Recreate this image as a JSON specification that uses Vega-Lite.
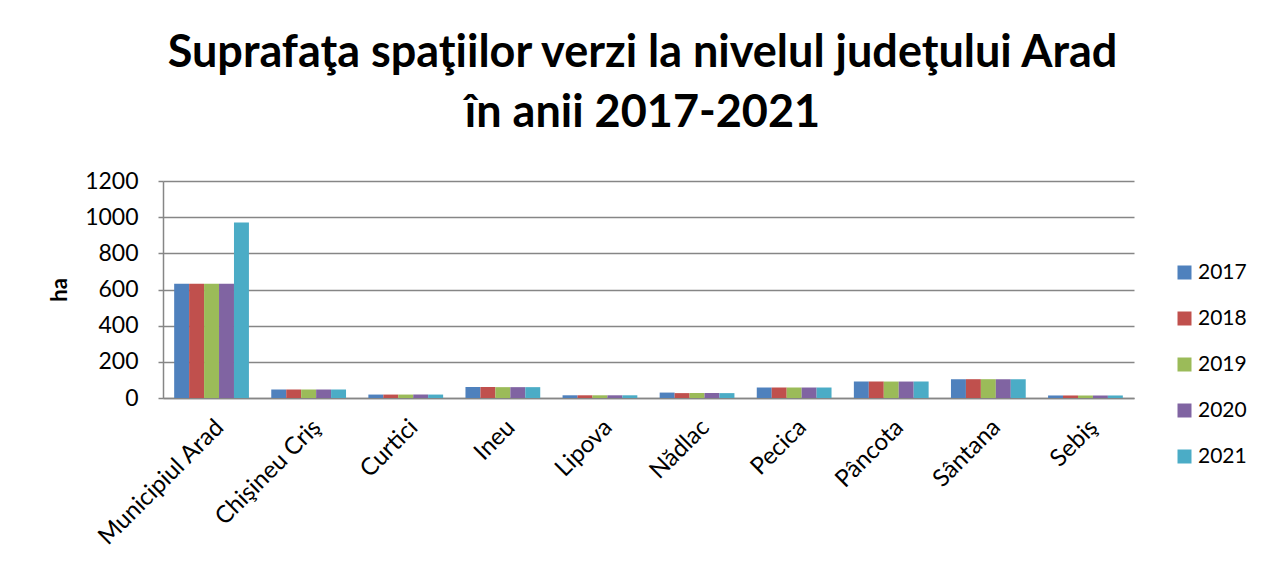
{
  "$schema": "https://vega.github.io/schema/vega-lite/v6.json",
  "width": 971,
  "height": 217,
  "autosize": {"type": "none"},
  "padding": {"left": 163, "top": 181, "right": 136, "bottom": 178},
  "background": "white",
  "title": {
    "text": ["Suprafaţa spaţiilor verzi la nivelul judeţului Arad", "în anii 2017-2021"],
    "font": "Lato",
    "fontSize": 45,
    "fontWeight": "bold",
    "color": "black",
    "lineHeight": 60,
    "anchor": "middle",
    "dx": -6,
    "offset": 34
  },
  "data": {
    "values": [
      {"loc": "Municipiul Arad", "an": "2017", "ha": 632},
      {"loc": "Municipiul Arad", "an": "2018", "ha": 632},
      {"loc": "Municipiul Arad", "an": "2019", "ha": 632},
      {"loc": "Municipiul Arad", "an": "2020", "ha": 632},
      {"loc": "Municipiul Arad", "an": "2021", "ha": 970},
      {"loc": "Chişineu Criş", "an": "2017", "ha": 47},
      {"loc": "Chişineu Criş", "an": "2018", "ha": 47},
      {"loc": "Chişineu Criş", "an": "2019", "ha": 47},
      {"loc": "Chişineu Criş", "an": "2020", "ha": 47},
      {"loc": "Chişineu Criş", "an": "2021", "ha": 47},
      {"loc": "Curtici", "an": "2017", "ha": 19},
      {"loc": "Curtici", "an": "2018", "ha": 19},
      {"loc": "Curtici", "an": "2019", "ha": 19},
      {"loc": "Curtici", "an": "2020", "ha": 19},
      {"loc": "Curtici", "an": "2021", "ha": 19},
      {"loc": "Ineu", "an": "2017", "ha": 61},
      {"loc": "Ineu", "an": "2018", "ha": 61},
      {"loc": "Ineu", "an": "2019", "ha": 60},
      {"loc": "Ineu", "an": "2020", "ha": 60},
      {"loc": "Ineu", "an": "2021", "ha": 60},
      {"loc": "Lipova", "an": "2017", "ha": 15},
      {"loc": "Lipova", "an": "2018", "ha": 15},
      {"loc": "Lipova", "an": "2019", "ha": 15},
      {"loc": "Lipova", "an": "2020", "ha": 15},
      {"loc": "Lipova", "an": "2021", "ha": 15},
      {"loc": "Nădlac", "an": "2017", "ha": 30},
      {"loc": "Nădlac", "an": "2018", "ha": 27},
      {"loc": "Nădlac", "an": "2019", "ha": 27},
      {"loc": "Nădlac", "an": "2020", "ha": 27},
      {"loc": "Nădlac", "an": "2021", "ha": 27},
      {"loc": "Pecica", "an": "2017", "ha": 58},
      {"loc": "Pecica", "an": "2018", "ha": 58},
      {"loc": "Pecica", "an": "2019", "ha": 58},
      {"loc": "Pecica", "an": "2020", "ha": 58},
      {"loc": "Pecica", "an": "2021", "ha": 58},
      {"loc": "Pâncota", "an": "2017", "ha": 91},
      {"loc": "Pâncota", "an": "2018", "ha": 91},
      {"loc": "Pâncota", "an": "2019", "ha": 91},
      {"loc": "Pâncota", "an": "2020", "ha": 91},
      {"loc": "Pâncota", "an": "2021", "ha": 91},
      {"loc": "Sântana", "an": "2017", "ha": 104},
      {"loc": "Sântana", "an": "2018", "ha": 104},
      {"loc": "Sântana", "an": "2019", "ha": 104},
      {"loc": "Sântana", "an": "2020", "ha": 104},
      {"loc": "Sântana", "an": "2021", "ha": 104},
      {"loc": "Sebiş", "an": "2017", "ha": 14},
      {"loc": "Sebiş", "an": "2018", "ha": 14},
      {"loc": "Sebiş", "an": "2019", "ha": 14},
      {"loc": "Sebiş", "an": "2020", "ha": 14},
      {"loc": "Sebiş", "an": "2021", "ha": 14}
    ]
  },
  "mark": {"type": "bar"},
  "encoding": {
    "x": {
      "field": "loc",
      "type": "nominal",
      "sort": null,
      "scale": {"paddingInner": 0.23, "paddingOuter": 0.115},
      "axis": {
        "title": null,
        "labelAngle": -45,
        "labelFont": "Lato",
        "labelFontSize": 24,
        "labelColor": "black",
        "labelPadding": 17,
        "ticks": false,
        "domainColor": "#868686",
        "domainWidth": 1.5
      }
    },
    "xOffset": {"field": "an", "type": "nominal"},
    "y": {
      "field": "ha",
      "type": "quantitative",
      "scale": {"domain": [0, 1200]},
      "axis": {
        "title": "ha",
        "titleFont": "Lato",
        "titleFontSize": 22,
        "titleFontWeight": "bold",
        "titleColor": "black",
        "titlePadding": 13,
        "format": "d",
        "values": [0, 200, 400, 600, 800, 1000, 1200],
        "labelFont": "Lato",
        "labelFontSize": 23,
        "labelColor": "black",
        "labelPadding": 20,
        "tickSize": 5,
        "tickColor": "#868686",
        "tickWidth": 1.5,
        "domainColor": "#868686",
        "domainWidth": 1.5,
        "gridColor": "#868686",
        "gridWidth": 1.5
      }
    },
    "color": {
      "field": "an",
      "type": "nominal",
      "scale": {
        "domain": ["2017", "2018", "2019", "2020", "2021"],
        "range": ["#4F81BD", "#C0504D", "#9BBB59", "#8064A2", "#4BACC6"]
      },
      "legend": {
        "title": null,
        "orient": "none",
        "legendX": 1011,
        "legendY": 81,
        "symbolType": "square",
        "symbolSize": 196,
        "symbolStrokeWidth": 0,
        "labelFont": "Lato",
        "labelFontSize": 21,
        "labelColor": "black",
        "labelOffset": 3,
        "rowPadding": 24
      }
    }
  },
  "config": {
    "view": {"stroke": null}
  }
}
